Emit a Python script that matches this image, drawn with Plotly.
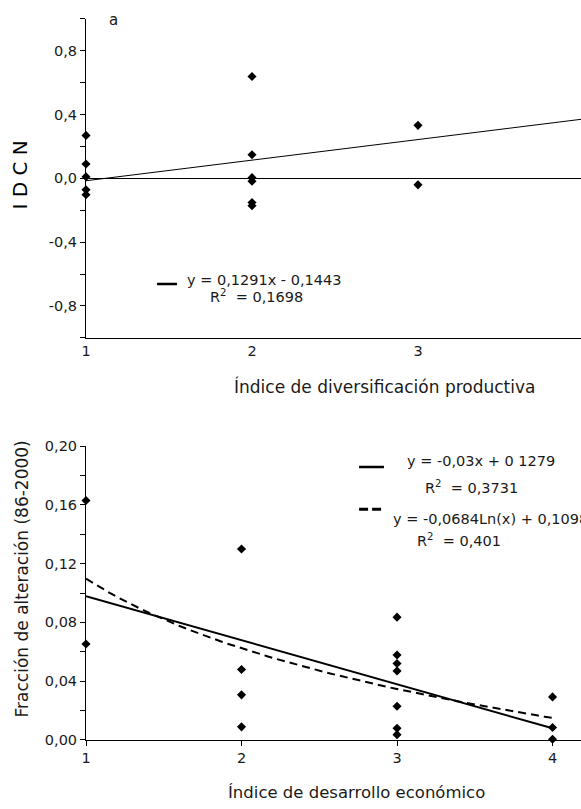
import numpy as np
import plotly.graph_objects as go

# ---------------- data ----------------
# Panel a: IDCN vs índice de diversificación productiva
a_x = [1, 1, 1, 1, 1, 2, 2, 2, 2, 2, 2, 3, 3]
a_y = [0.269, 0.090, 0.010, -0.072, -0.103,
       0.638, 0.148, 0.004, -0.018, -0.152, -0.172,
       0.332, -0.041]
a_slope, a_intercept = 0.1291, -0.1443

# Panel b: fracción de alteración vs índice de desarrollo económico
b_x = [1, 1, 2, 2, 2, 2, 3, 3, 3, 3, 3, 3, 3, 4, 4, 4]
b_y = [0.163, 0.0653,
       0.130, 0.048, 0.0307, 0.0089,
       0.0836, 0.0578, 0.052, 0.047, 0.0229, 0.008, 0.0036,
       0.0293, 0.0085, 0.0005]
b_lin_slope, b_lin_intercept = -0.03, 0.1279
b_log_coef, b_log_intercept = -0.0684, 0.1098

a_yticks = [-1.0, -0.8, -0.6, -0.4, -0.2, 0.0, 0.2, 0.4, 0.6, 0.8, 1.0]
a_yticklabels = ["", "-0,8", "", "-0,4", "", "0,0", "", "0,4", "", "0,8", ""]
a_xticks = [1, 2, 3, 4]
a_xticklabels = ["1", "2", "3", "4"]
b_yticks = [0.0, 0.02, 0.04, 0.06, 0.08, 0.10, 0.12, 0.14, 0.16, 0.18, 0.20]
b_yticklabels = ["0,00", "", "0,04", "", "0,08", "", "0,12", "", "0,16", "", "0,20"]
b_xticks = [1, 2, 3, 4]
b_xticklabels = ["1", "2", "3", "4"]

# ---------------- style ----------------
FONT = "DejaVu Sans, Liberation Sans, Arial, sans-serif"
TXT = "#1a1a1a"
WEIGHT = "normal"
H = 809.0
W_PLOT = 581.0 - 86.0

fig = go.Figure()

# Panel a
fig.add_trace(go.Scatter(x=a_x, y=a_y, mode="markers", xaxis="x", yaxis="y",
                         marker=dict(symbol="diamond", size=7, color="black"),
                         cliponaxis=False, showlegend=False))
a_line_x = np.array([1.0, 4.0])
fig.add_trace(go.Scatter(x=a_line_x, y=a_slope * a_line_x + a_intercept,
                         mode="lines", xaxis="x", yaxis="y",
                         line=dict(color="black", width=1), showlegend=False))

# Panel b
fig.add_trace(go.Scatter(x=b_x, y=b_y, mode="markers", xaxis="x2", yaxis="y2",
                         marker=dict(symbol="diamond", size=7, color="black"),
                         cliponaxis=False, showlegend=False))
b_line_x = np.array([1.0, 4.0])
fig.add_trace(go.Scatter(x=b_line_x, y=b_lin_slope * b_line_x + b_lin_intercept,
                         mode="lines", xaxis="x2", yaxis="y2",
                         line=dict(color="black", width=2), showlegend=False))
b_curve_x = np.linspace(1.0, 4.0, 60)
fig.add_trace(go.Scatter(x=b_curve_x, y=b_log_coef * np.log(b_curve_x) + b_log_intercept,
                         mode="lines", xaxis="x2", yaxis="y2",
                         line=dict(color="black", width=2, dash="8px,5px"), showlegend=False))

axis_common = dict(showgrid=False, zeroline=False, showline=True, linecolor="black",
                   linewidth=1, ticks="outside", tickcolor="black", ticklen=5,
                   tickfont=dict(family=FONT, size=14.5, color=TXT, weight=WEIGHT))

top_dom = [1 - 336.5 / H, 1 - 11 / H]
bot_dom = [1 - 746.7 / H, 1 - 447 / H]

fig.update_layout(
    width=581, height=809,
    margin=dict(l=86, r=0, t=0, b=0),
    paper_bgcolor="white", plot_bgcolor="white",
    font=dict(family=FONT, color=TXT),
    xaxis=dict(axis_common, domain=[0, 1], range=[1, 3.982], anchor="y",
               tickmode="array", tickvals=a_xticks, ticktext=a_xticklabels, ticks=""),
    xaxis3=dict(domain=[0, 1], range=[1, 3.982], anchor="y", overlaying="x",
                showgrid=False, zeroline=False, showline=False, ticks="outside",
                tickcolor="black", ticklen=5, tickvals=[1, 2.428], showticklabels=False),
    yaxis=dict(axis_common, domain=top_dom, range=[-1, 1], anchor="x",
               tickmode="array", tickvals=a_yticks, ticktext=a_yticklabels,
               zeroline=True, zerolinecolor="black", zerolinewidth=1),
    xaxis2=dict(axis_common, domain=[0, 1], range=[1, 4.183], anchor="y2",
                tickmode="array", tickvals=b_xticks, ticktext=b_xticklabels),
    yaxis2=dict(axis_common, domain=bot_dom, range=[0, 0.2], anchor="x2",
                tickmode="array", tickvals=b_yticks, ticktext=b_yticklabels),
)

# legend-like sample lines
fig.add_shape(type="line", xref="x", yref="y", x0=1.428, x1=1.548, y0=-0.663, y1=-0.663,
              line=dict(color="black", width=2.5))
fig.add_shape(type="line", xref="x2", yref="y2", x0=2.756, x1=2.916, y0=0.1858, y1=0.1858,
              line=dict(color="black", width=2.5))
fig.add_shape(type="line", xref="x2", yref="y2", x0=2.756, x1=2.916, y0=0.157, y1=0.157,
              line=dict(color="black", width=3, dash="9px,4px"))

ann = []
def t(text, x, y, xref, yref, size=14.5, xanchor="left", **kw):
    ann.append(dict(text=text, x=x, y=y, xref=xref, yref=yref, showarrow=False,
                    xanchor=xanchor, yanchor="middle",
                    font=dict(family=FONT, size=size, color=TXT, weight=WEIGHT), **kw))

t("a", 1.127, 0.99, "x", "y", size=15)
t("b", 1.238, 0.2025, "x2", "y2", size=15)
t("y = 0,1291x - 0,1443", 1.596, -0.64, "x", "y")
t("R<sup>2</sup>\u00a0 = 0,1698", 1.735, -0.738, "x", "y")
t("y = -0,03x + 0 1279", 3.051, 0.1898, "x2", "y2")
t("R<sup>2</sup>\u00a0 = 0,3731", 3.167, 0.1725, "x2", "y2")
t("y = -0,0684Ln(x) + 0,1098", 2.962, 0.1505, "x2", "y2")
t("R<sup>2</sup>\u00a0 = 0,401", 3.116, 0.1358, "x2", "y2")

# axis titles
t("Índice de diversificación productiva", (384 - 86) / W_PLOT, 1 - 386 / H, "paper", "paper",
  size=17, xanchor="center")
t("Índice de desarrollo económico", (356 - 86) / W_PLOT, 1 - 800 / H, "paper", "paper",
  size=16.5, xanchor="center")
ann.append(dict(text="I D C N", x=0, y=1 - 171 / H, xref="paper", yref="paper",
                showarrow=False, textangle=-90, xanchor="center", yanchor="middle",
                xshift=-66, font=dict(family=FONT, size=20, color="black")))
ann.append(dict(text="Fracción de alteración (86-2000)", x=0, y=1 - 583 / H,
                xref="paper", yref="paper", showarrow=False, textangle=-90,
                xanchor="center", yanchor="middle", xshift=-64,
                font=dict(family=FONT, size=17, color=TXT, weight=WEIGHT)))
fig.update_layout(annotations=ann)

fig.write_html("out.html", config={"displayModeBar": False},
               post_script="document.body.style.margin='0';document.body.style.overflow='hidden';")
